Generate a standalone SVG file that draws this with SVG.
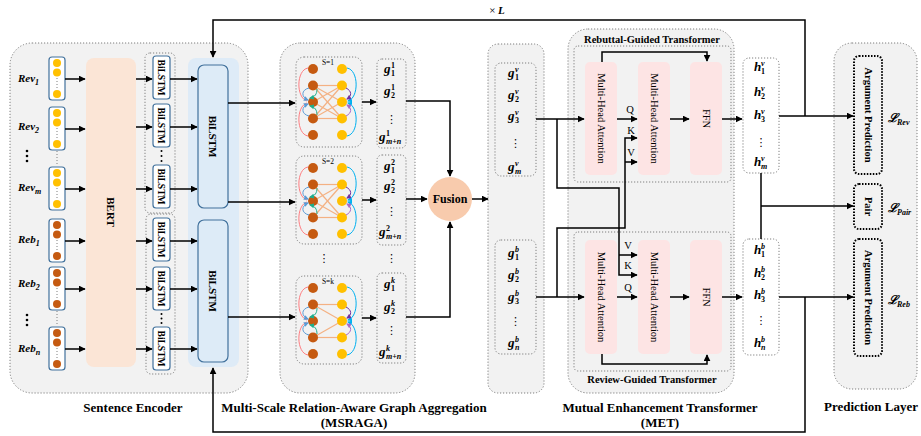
<svg xmlns="http://www.w3.org/2000/svg" width="921" height="436" viewBox="0 0 921 436">
<defs>
<style>
text{font-family:"Liberation Serif","DejaVu Serif",serif;fill:#000}
.b{font-weight:bold}
.bi{font-weight:bold;font-style:italic}
.sec{font-size:13px;font-weight:bold;text-anchor:middle}
.outer{fill:#F2F2F2;stroke:#7F7F7F;stroke-width:1;stroke-dasharray:1.2 1.8}
.wbox{fill:#fff;stroke:#7F7F7F;stroke-width:1;stroke-dasharray:1.2 1.8}
.tok{fill:#fff;stroke:#41719C;stroke-width:1.2}
.pink{fill:#FDE4E4}
.pred{fill:#F2F2F2;stroke:#000;stroke-width:2;stroke-dasharray:1.5 1.5}
.ln{fill:none;stroke:#000;stroke-width:1.5}
.arr{marker-end:url(#ah)}
.y{fill:#FFC000}
.o{fill:#C55A11}
.dl{stroke:#7F7F7F;stroke-width:1;stroke-dasharray:1 2;fill:none}
.e{stroke:#F4B183;stroke-width:1.2}
.m{font-size:13px}
.s{font-size:8px}
.d{font-size:8px;font-style:normal}
.rl{font-size:10.5px;text-anchor:middle}
.sl{font-size:9.5px;font-weight:bold;text-anchor:middle}
.qkv{font-size:10.5px;text-anchor:middle}
.dots{font-family:"DejaVu Sans",sans-serif;font-size:11px;text-anchor:middle}
.lab{font-size:11px;font-weight:bold;font-style:italic}
</style>
<marker id="ah" viewBox="0 0 10 10" refX="9" refY="5" markerWidth="7" markerHeight="7" markerUnits="userSpaceOnUse" orient="auto"><path d="M0,0 L10,5 L0,10 z" fill="#000"/></marker>
<marker id="mb" viewBox="0 0 10 10" refX="8" refY="5" markerWidth="5" markerHeight="5" markerUnits="userSpaceOnUse" orient="auto"><path d="M0,0 L10,5 L0,10 z" fill="#5B9BD5"/></marker>
<marker id="mc" viewBox="0 0 10 10" refX="8" refY="5" markerWidth="5" markerHeight="5" markerUnits="userSpaceOnUse" orient="auto"><path d="M0,0 L10,5 L0,10 z" fill="#00B0F0"/></marker>
<marker id="mt" viewBox="0 0 10 10" refX="8" refY="5" markerWidth="5" markerHeight="5" markerUnits="userSpaceOnUse" orient="auto"><path d="M0,0 L10,5 L0,10 z" fill="#1FAE8C"/></marker>
<marker id="mp" viewBox="0 0 10 10" refX="8" refY="5" markerWidth="5" markerHeight="5" markerUnits="userSpaceOnUse" orient="auto"><path d="M0,0 L10,5 L0,10 z" fill="#7030A0"/></marker>
<marker id="mq" viewBox="0 0 10 10" refX="8" refY="5" markerWidth="5" markerHeight="5" markerUnits="userSpaceOnUse" orient="auto"><path d="M0,0 L10,5 L0,10 z" fill="#A86BC9"/></marker>
<g id="gnodes">
<circle class="o" cx="17" cy="12" r="5"/><circle class="o" cx="17" cy="28.5" r="5"/><circle class="o" cx="17" cy="45" r="5"/><circle class="o" cx="17" cy="61.5" r="5"/><circle class="o" cx="17" cy="78" r="5"/>
<circle class="y" cx="46" cy="12" r="5"/><circle class="y" cx="46" cy="28.5" r="5"/><circle class="y" cx="46" cy="45" r="5"/><circle class="y" cx="46" cy="61.5" r="5"/><circle class="y" cx="46" cy="78" r="5"/>
<g fill="none" stroke-width="1">
<path d="M12,11 C0,13 0,41 11,44" stroke="#FF7C80"/>
<path d="M12,79 C0,77 0,49 11,46" stroke="#FF7C80"/>
<path d="M13,31 C5,33 5,40 12,43" stroke="#5B9BD5" marker-end="url(#mb)"/>
<path d="M13,59 C5,57 5,50 12,47" stroke="#5B9BD5" marker-end="url(#mb)"/>
<path d="M21,32 C21,37 19,40 14,41" stroke="#1FAE8C" marker-end="url(#mt)"/>
<path d="M21,58 C21,53 19,50 14,49" stroke="#1FAE8C" marker-end="url(#mt)"/>
<path d="M51,11 C63,13 63,41 52,44" stroke="#00B0F0" marker-end="url(#mc)"/>
<path d="M51,79 C63,77 63,49 52,46" stroke="#00B0F0" marker-end="url(#mc)"/>
<path d="M50,31 C56,34 56,39 51,42" stroke="#7030A0" marker-end="url(#mp)"/>
<path d="M50,59 C56,56 56,51 51,48" stroke="#A86BC9" marker-end="url(#mq)"/>
</g>
</g>
</defs>

<rect width="921" height="436" fill="#fff"/>

<g id="sentence-encoder">
<rect class="outer" x="10" y="43" width="238" height="350" rx="22"/>
<text class="sec" x="133" y="412">Sentence Encoder</text>
</g>
<g id="inputs">
<text class="lab" x="18" y="82">Rev<tspan class="s" dy="3">1</tspan></text>
<text class="lab" x="18" y="130">Rev<tspan class="s" dy="3">2</tspan></text>
<text class="lab" x="18" y="191">Rev<tspan class="s" dy="3">m</tspan></text>
<text class="lab" x="18" y="243">Reb<tspan class="s" dy="3">1</tspan></text>
<text class="lab" x="18" y="287">Reb<tspan class="s" dy="3">2</tspan></text>
<text class="lab" x="18" y="352">Reb<tspan class="s" dy="3">n</tspan></text>
<g fill="#000"><circle cx="27" cy="151" r="1.3"/><circle cx="27" cy="156" r="1.3"/><circle cx="27" cy="161" r="1.3"/><circle cx="27" cy="315" r="1.3"/><circle cx="27" cy="320" r="1.3"/><circle cx="27" cy="325" r="1.3"/></g>
</g>
<g id="tokens">
<rect class="tok" x="49" y="57" width="16" height="43" rx="3"/><circle class="y" cx="57" cy="63" r="4"/><circle class="y" cx="57" cy="72.5" r="4"/><circle class="y" cx="57" cy="94" r="4"/><path class="dl" d="M57,78 V89"/>
<rect class="tok" x="49" y="107" width="16" height="43" rx="3"/><circle class="y" cx="57" cy="113" r="4"/><circle class="y" cx="57" cy="122.5" r="4"/><circle class="y" cx="57" cy="144" r="4"/><path class="dl" d="M57,128 V139"/>
<rect class="tok" x="49" y="167" width="16" height="43" rx="3"/><circle class="y" cx="57" cy="173" r="4"/><circle class="y" cx="57" cy="182.5" r="4"/><circle class="y" cx="57" cy="204" r="4"/><path class="dl" d="M57,188 V199"/>
<rect class="tok" x="49" y="219" width="16" height="43" rx="3"/><circle class="o" cx="57" cy="225" r="4"/><circle class="o" cx="57" cy="234.5" r="4"/><circle class="o" cx="57" cy="256" r="4"/><path class="dl" d="M57,240 V251"/>
<rect class="tok" x="49" y="267" width="16" height="43" rx="3"/><circle class="o" cx="57" cy="273" r="4"/><circle class="o" cx="57" cy="282.5" r="4"/><circle class="o" cx="57" cy="304" r="4"/><path class="dl" d="M57,288 V299"/>
<rect class="tok" x="49" y="327" width="16" height="43" rx="3"/><circle class="o" cx="57" cy="333" r="4"/><circle class="o" cx="57" cy="342.5" r="4"/><circle class="o" cx="57" cy="364" r="4"/><path class="dl" d="M57,348 V359"/>
<path class="dl" d="M57,151 V166 M57,311 V326"/>
</g>
<g id="bert">
<rect x="86" y="58" width="50" height="309" rx="8" fill="#FBE5D6"/>
<text class="b" font-size="11" text-anchor="middle" transform="translate(111,212) rotate(90)" dy="4">BERT</text>
</g>
<g id="bilstm-small">
<rect class="outer" x="145" y="53" width="30" height="160" rx="5"/>
<rect class="outer" x="146" y="214" width="29" height="160" rx="5"/>
<rect class="tok" x="153" y="56" width="17" height="43" rx="3"/><text class="sl" transform="translate(161.5,77.5) rotate(90)" dy="3.5">BiLSTM</text>
<rect class="tok" x="153" y="104" width="17" height="43" rx="3"/><text class="sl" transform="translate(161.5,125.5) rotate(90)" dy="3.5">BiLSTM</text>
<rect class="tok" x="153" y="165" width="17" height="43" rx="3"/><text class="sl" transform="translate(161.5,186.5) rotate(90)" dy="3.5">BiLSTM</text>
<rect class="tok" x="153" y="218" width="17" height="43" rx="3"/><text class="sl" transform="translate(161.5,239.5) rotate(90)" dy="3.5">BiLSTM</text>
<rect class="tok" x="153" y="267" width="17" height="43" rx="3"/><text class="sl" transform="translate(161.5,288.5) rotate(90)" dy="3.5">BiLSTM</text>
<rect class="tok" x="153" y="327" width="17" height="43" rx="3"/><text class="sl" transform="translate(161.5,348.5) rotate(90)" dy="3.5">BiLSTM</text>
<g fill="#000"><circle cx="161.5" cy="151" r="1"/><circle cx="161.5" cy="156" r="1"/><circle cx="161.5" cy="161" r="1"/><circle cx="161.5" cy="314" r="1"/><circle cx="161.5" cy="318.5" r="1"/><circle cx="161.5" cy="323" r="1"/></g>
</g>
<g id="bilstm-big">
<rect x="188" y="58" width="51" height="309" rx="8" fill="#DEEBF7"/>
<rect x="198" y="65" width="30" height="143" rx="6" fill="#DDEBF7" stroke="#41719C" stroke-width="1.2"/>
<rect x="198" y="220" width="30" height="142" rx="6" fill="#DDEBF7" stroke="#41719C" stroke-width="1.2"/>
<text class="b" font-size="11" text-anchor="middle" transform="translate(213,136.5) rotate(90)" dy="4">BiLSTM</text>
<text class="b" font-size="11" text-anchor="middle" transform="translate(213,291) rotate(90)" dy="4">BiLSTM</text>
</g>

<g id="msraga">
<rect class="outer" x="280" y="43" width="135" height="350" rx="20"/>
<text class="sec" x="354" y="412">Multi-Scale Relation-Aware Graph Aggregation</text>
<text class="sec" x="354" y="427">(MSRAGA)</text>
</g>
<g id="graph-s1" transform="translate(296,57)">
<rect class="outer" x="0" y="0" width="66" height="90" rx="8"/>
<g class="e"><line x1="17" y1="28.5" x2="46" y2="28.5"/><line x1="17" y1="28.5" x2="46" y2="45"/><line x1="17" y1="28.5" x2="46" y2="61.5"/><line x1="17" y1="45" x2="46" y2="28.5"/><line x1="17" y1="45" x2="46" y2="61.5"/><line x1="17" y1="61.5" x2="46" y2="28.5"/><line x1="17" y1="61.5" x2="46" y2="45"/><line x1="17" y1="61.5" x2="46" y2="61.5"/></g>
<use href="#gnodes"/>
<text x="32" y="7.5" font-size="7.5" text-anchor="middle">S=1</text>
</g>
<g id="graph-s2" transform="translate(296,156)">
<rect class="outer" x="0" y="0" width="66" height="88" rx="8"/>
<g class="e"><line x1="17" y1="28.5" x2="46" y2="28.5"/><line x1="17" y1="28.5" x2="46" y2="61.5"/><line x1="17" y1="61.5" x2="46" y2="28.5"/><line x1="17" y1="61.5" x2="46" y2="61.5"/><line x1="17" y1="45" x2="46" y2="28.5"/><line x1="17" y1="45" x2="46" y2="61.5"/></g>
<use href="#gnodes"/>
<text x="32" y="7.5" font-size="7.5" text-anchor="middle">S=2</text>
</g>
<g id="graph-sk" transform="translate(296,276)">
<rect class="outer" x="0" y="0" width="66" height="88" rx="8"/>
<g class="e"><line x1="17" y1="28.5" x2="46" y2="28.5"/><line x1="17" y1="28.5" x2="46" y2="45"/><line x1="17" y1="61.5" x2="46" y2="45"/><line x1="17" y1="61.5" x2="46" y2="61.5"/></g>
<use href="#gnodes"/>
<text x="32" y="7.5" font-size="7.5" text-anchor="middle">S=k</text>
</g>
<text class="dots" x="324" y="262">⋮</text>
<g id="g-s1">
<rect class="outer" x="377" y="59" width="29" height="89" rx="5"/>
<text class="bi m"><tspan x="384" y="73">g</tspan><tspan class="d" x="391" y="68">1</tspan><tspan class="d" x="391" y="76">1</tspan></text>
<text class="bi m"><tspan x="384" y="95">g</tspan><tspan class="d" x="391" y="90">1</tspan><tspan class="d" x="391" y="98">2</tspan></text>
<text class="dots" x="391.5" y="123">⋮</text>
<text class="bi m"><tspan x="379" y="141">g</tspan><tspan class="d" x="386" y="136">1</tspan><tspan class="s" x="386" y="144">m+n</tspan></text>
</g>
<g id="g-s2">
<rect class="outer" x="377" y="155" width="29" height="90" rx="5"/>
<text class="bi m"><tspan x="384" y="170">g</tspan><tspan class="d" x="391" y="165">2</tspan><tspan class="d" x="391" y="173">1</tspan></text>
<text class="bi m"><tspan x="384" y="190">g</tspan><tspan class="d" x="391" y="185">2</tspan><tspan class="d" x="391" y="193">2</tspan></text>
<text class="dots" x="391.5" y="215">⋮</text>
<text class="bi m"><tspan x="379" y="236">g</tspan><tspan class="d" x="386" y="231">2</tspan><tspan class="s" x="386" y="239">m+n</tspan></text>
</g>
<text class="dots" x="391.5" y="262">⋮</text>
<g id="g-sk">
<rect class="outer" x="377" y="273" width="29" height="90" rx="5"/>
<text class="bi m"><tspan x="384" y="288">g</tspan><tspan class="s" x="391" y="283">k</tspan><tspan class="d" x="391" y="291">1</tspan></text>
<text class="bi m"><tspan x="384" y="311">g</tspan><tspan class="s" x="391" y="306">k</tspan><tspan class="d" x="391" y="314">2</tspan></text>
<text class="dots" x="391.5" y="334">⋮</text>
<text class="bi m"><tspan x="379" y="356">g</tspan><tspan class="s" x="386" y="351">k</tspan><tspan class="s" x="386" y="359">m+n</tspan></text>
</g>
<g id="fusion">
<circle cx="450" cy="199" r="22" fill="#F8CBAD"/>
<text class="b" font-size="12" x="450" y="203" text-anchor="middle">Fusion</text>
</g>

<g id="g-column">
<rect class="outer" x="488" y="44" width="56" height="349" rx="10"/>
<rect class="outer" x="495" y="63" width="41" height="113" rx="6"/>
<text class="bi m"><tspan x="508" y="77">g</tspan><tspan class="s" x="515" y="72">v</tspan><tspan class="d" x="515" y="80">1</tspan></text>
<text class="bi m"><tspan x="508" y="99">g</tspan><tspan class="s" x="515" y="94">v</tspan><tspan class="d" x="515" y="102">2</tspan></text>
<text class="bi m"><tspan x="508" y="120">g</tspan><tspan class="s" x="515" y="115">v</tspan><tspan class="d" x="515" y="123">3</tspan></text>
<text class="dots" x="515.5" y="147">⋮</text>
<text class="bi m"><tspan x="508" y="171">g</tspan><tspan class="s" x="515" y="166">v</tspan><tspan class="s" x="515" y="174">m</tspan></text>
<rect class="outer" x="495" y="240" width="41" height="114" rx="6"/>
<text class="bi m"><tspan x="508" y="257">g</tspan><tspan class="s" x="515" y="252">b</tspan><tspan class="d" x="515" y="260">1</tspan></text>
<text class="bi m"><tspan x="508" y="279">g</tspan><tspan class="s" x="515" y="274">b</tspan><tspan class="d" x="515" y="282">2</tspan></text>
<text class="bi m"><tspan x="508" y="301">g</tspan><tspan class="s" x="515" y="296">b</tspan><tspan class="d" x="515" y="304">3</tspan></text>
<text class="dots" x="515.5" y="325">⋮</text>
<text class="bi m"><tspan x="508" y="347">g</tspan><tspan class="s" x="515" y="342">b</tspan><tspan class="s" x="515" y="350">n</tspan></text>
</g>

<g id="met">
<rect class="outer" x="568" y="29" width="166" height="364" rx="20"/>
<text class="sec" x="660" y="412">Mutual Enhancement Transformer</text>
<text class="sec" x="660" y="427">(MET)</text>
</g>
<g id="rebuttal-guided">
<rect class="outer" x="574" y="46" width="157" height="136" rx="4"/>
<text class="b" font-size="10.5" x="652" y="43" text-anchor="middle">Rebuttal-Guided Transformer</text>
<rect class="pink" x="585" y="62" width="32" height="113" rx="5"/>
<rect class="pink" x="638" y="62" width="32" height="113" rx="5"/>
<rect class="pink" x="690" y="62" width="32" height="113" rx="5"/>
<text class="rl" transform="translate(601,118.5) rotate(90)" dy="3.5">Multi-Head Attention</text>
<text class="rl" transform="translate(654,118.5) rotate(90)" dy="3.5">Multi-Head Attention</text>
<text class="rl" transform="translate(706,118.5) rotate(90)" dy="3.5">FFN</text>
</g>
<g id="review-guided">
<rect class="outer" x="574" y="232" width="157" height="139" rx="4"/>
<text class="b" font-size="10.5" x="652" y="383" text-anchor="middle">Review-Guided Transformer</text>
<rect class="pink" x="585" y="240" width="32" height="114" rx="5"/>
<rect class="pink" x="638" y="240" width="32" height="114" rx="5"/>
<rect class="pink" x="690" y="240" width="32" height="114" rx="5"/>
<text class="rl" transform="translate(601,297) rotate(90)" dy="3.5">Multi-Head Attention</text>
<text class="rl" transform="translate(654,297) rotate(90)" dy="3.5">Multi-Head Attention</text>
<text class="rl" transform="translate(706,297) rotate(90)" dy="3.5">FFN</text>
</g>
<g id="qkv-labels">
<text class="qkv" x="630" y="113">Q</text>
<text class="qkv" x="631" y="134">K</text>
<text class="qkv" x="631" y="156">V</text>
<text class="qkv" x="628" y="249">V</text>
<text class="qkv" x="628" y="269">K</text>
<text class="qkv" x="628" y="291">Q</text>
</g>

<g id="h-rev">
<rect class="wbox" x="743" y="58" width="36" height="115" rx="6"/>
<text class="bi m"><tspan x="754" y="71">h</tspan><tspan class="s" x="761" y="66">v</tspan><tspan class="d" x="761" y="74">1</tspan></text>
<text class="bi m"><tspan x="754" y="96">h</tspan><tspan class="s" x="761" y="91">v</tspan><tspan class="d" x="761" y="99">2</tspan></text>
<text class="bi m"><tspan x="754" y="119">h</tspan><tspan class="s" x="761" y="114">v</tspan><tspan class="d" x="761" y="122">3</tspan></text>
<text class="dots" x="761" y="146">⋮</text>
<text class="bi m"><tspan x="754" y="166">h</tspan><tspan class="s" x="761" y="161">v</tspan><tspan class="s" x="761" y="169">m</tspan></text>
</g>
<g id="h-reb">
<rect class="wbox" x="743" y="239" width="36" height="116" rx="6"/>
<text class="bi m"><tspan x="754" y="254">h</tspan><tspan class="s" x="761" y="249">b</tspan><tspan class="d" x="761" y="257">1</tspan></text>
<text class="bi m"><tspan x="754" y="277">h</tspan><tspan class="s" x="761" y="272">b</tspan><tspan class="d" x="761" y="280">2</tspan></text>
<text class="bi m"><tspan x="754" y="299">h</tspan><tspan class="s" x="761" y="294">b</tspan><tspan class="d" x="761" y="302">3</tspan></text>
<text class="dots" x="761" y="324">⋮</text>
<text class="bi m"><tspan x="754" y="347">h</tspan><tspan class="s" x="761" y="342">b</tspan><tspan class="s" x="761" y="350">n</tspan></text>
</g>

<g id="prediction-layer">
<rect class="outer" x="834" y="43" width="83" height="346" rx="18"/>
<text class="sec" x="871" y="411">Prediction Layer</text>
</g>
<g id="arg-pred-rev">
<rect class="pred" x="854" y="56" width="28" height="118" rx="5"/>
<text class="b" font-size="10.5" text-anchor="middle" transform="translate(868,115) rotate(90)" dy="3.5">Argument Prediction</text>
<text class="bi" font-size="12" x="888" y="122">ℒ<tspan class="s" x="897" y="125">Rev</tspan></text>
</g>
<g id="pair">
<rect class="pred" x="854" y="184" width="28" height="45" rx="5"/>
<text class="b" font-size="10.5" text-anchor="middle" transform="translate(868,206.5) rotate(90)" dy="3.5">Pair</text>
<text class="bi" font-size="12" x="888" y="212">ℒ<tspan class="s" x="897" y="215">Pair</tspan></text>
</g>
<g id="arg-pred-reb">
<rect class="pred" x="854" y="239" width="28" height="117" rx="5"/>
<text class="b" font-size="10.5" text-anchor="middle" transform="translate(868,297.5) rotate(90)" dy="3.5">Argument Prediction</text>
<text class="bi" font-size="12" x="888" y="304">ℒ<tspan class="s" x="897" y="307">Reb</tspan></text>
</g>

<text x="497" y="14" font-size="11" text-anchor="middle">× <tspan class="bi">L</tspan></text>

<g id="connectors">
<path class="ln arr" d="M65,79 H85"/><path class="ln arr" d="M65,129 H85"/><path class="ln arr" d="M65,189 H85"/>
<path class="ln arr" d="M65,241 H85"/><path class="ln arr" d="M65,289 H85"/><path class="ln arr" d="M65,349 H85"/>
<path class="ln arr" d="M136,79 H152"/><path class="ln arr" d="M136,127 H152"/><path class="ln arr" d="M136,189 H152"/>
<path class="ln arr" d="M136,241 H152"/><path class="ln arr" d="M136,289 H152"/><path class="ln arr" d="M136,349 H152"/>
<path class="ln arr" d="M170,79 H197"/><path class="ln arr" d="M170,127 H197"/><path class="ln arr" d="M170,189 H197"/>
<path class="ln arr" d="M170,241 H197"/><path class="ln arr" d="M170,289 H197"/><path class="ln arr" d="M170,349 H197"/>
<path class="ln arr" d="M228,103 H295"/>
<path class="ln arr" d="M228,202 H295"/>
<path class="ln arr" d="M228,317 H295"/>
<path class="ln arr" d="M362,102 H376"/>
<path class="ln arr" d="M362,200 H376"/>
<path class="ln arr" d="M362,318 H376"/>
<path class="ln arr" d="M406,101 H450 V176"/>
<path class="ln arr" d="M406,199 H427"/>
<path class="ln arr" d="M406,317 H450 V222"/>
<path class="ln arr" d="M472,199 H488"/>
<path class="ln arr" d="M536,119 H584"/>
<path class="ln arr" d="M557,119 V188 H619 V275 H637"/>
<path class="ln arr" d="M619,255 H637"/>
<path class="ln arr" d="M536,297 H584"/>
<path class="ln arr" d="M557,297 V228 H625 V138 H637"/>
<path class="ln arr" d="M625,162 H637"/>
<path class="ln arr" d="M617,119 H637"/>
<path class="ln arr" d="M617,297 H637"/>
<path class="ln arr" d="M670,119 H689"/>
<path class="ln arr" d="M670,297 H689"/>
<path class="ln arr" d="M722,119 H742"/>
<path class="ln arr" d="M722,297 H742"/>
<path class="ln arr" d="M602,62 V52 H707 V61"/>
<path class="ln arr" d="M602,354 V364 H707 V355"/>
<path class="ln arr" d="M779,116 H853"/>
<path class="ln arr" d="M779,297 H853"/>
<path class="ln" d="M761,173 V239"/>
<path class="ln arr" d="M761,206 H853"/>
<path class="ln arr" d="M805,116 V20 H213 V57"/>
<path class="ln arr" d="M805,297 V432 H213 V368"/>
</g>
</svg>
